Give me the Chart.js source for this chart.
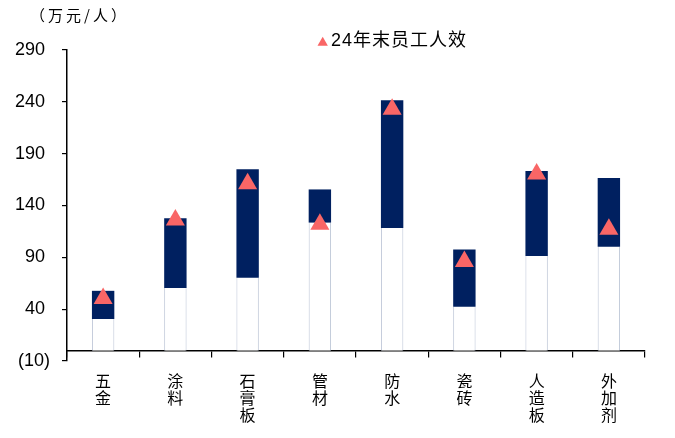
<!DOCTYPE html>
<html><head><meta charset="utf-8">
<script src="https://cdn.jsdelivr.net/npm/chart.js@4.4.0/dist/chart.umd.min.js"></script>
<style>html,body{margin:0;padding:0;background:#fff;}#wrap{width:675px;height:438px;}</style>
</head><body><div id="wrap"><canvas id="c" width="675" height="438"></canvas></div>
<script>
const categories = [['五','金'],['涂','料'],['石','膏','板'],['管','材'],['防','水'],['瓷','砖'],['人','造','板'],['外','加','剂']];
const rangeLow = [30.5, 60.3, 70.3, 123.5, 118.4, 42.3, 91.4, 100.1];
const rangeHigh = [57.7, 127.8, 175, 155.5, 241.5, 97.5, 173.4, 166.6];
const staffEfficiency24 = [50.3, 125.9, 161.1, 121.8, 232.8, 86.0, 170.5, 117];
const yTicks = [-10, 40, 90, 140, 190, 240, 290];
const seriesName = '24年末员工人效';
const unitLabel = '（万元/人）';

const NAVY = '#002060';
const SALMON = '#F96666';
const LATIN = "'Liberation Sans', Arial, 'Noto Sans CJK SC', sans-serif";
const CJK = "'Noto Sans CJK SC', sans-serif";

const extras = {
  id: 'extras',
  afterDraw(chart) {
    const ctx = chart.ctx;
    ctx.save();
    ctx.fillStyle = '#000';
    ctx.font = '15px ' + CJK;
    ctx.textBaseline = 'middle';
    ctx.textAlign = 'left';
    ctx.letterSpacing = '3px';
    ctx.fillText(unitLabel, 30, 15);
    // legend
    ctx.fillStyle = SALMON;
    Chart.helpers.drawPoint(ctx, {pointStyle: 'triangle', radius: 6, rotation: 0, borderWidth: 0}, 322.7, 42.7);
    ctx.fillStyle = '#000';
    ctx.font = '18px ' + LATIN;
    ctx.letterSpacing = '1px';
    ctx.fillText(seriesName, 331, 41);
    ctx.restore();
  }
};

new Chart(document.getElementById('c'), {
  type: 'bar',
  data: {
    labels: categories,
    datasets: [
      {
        type: 'line',
        label: seriesName,
        data: staffEfficiency24,
        showLine: false,
        pointStyle: 'triangle',
        pointRadius: 11,
        pointHoverRadius: 11,
        pointBackgroundColor: SALMON,
        pointBorderWidth: 0,
        order: 0
      },
      {
        label: 'range',
        data: rangeLow.map((v, i) => [v, rangeHigh[i]]),
        backgroundColor: NAVY,
        borderWidth: 0,
        grouped: false,
        categoryPercentage: 1,
        barPercentage: 0.31,
        order: 1
      },
      {
        label: 'base',
        data: rangeLow.map(v => [0, v]),
        backgroundColor: '#FFFFFF',
        borderColor: '#BCC5D6',
        borderWidth: {left: 1, right: 1, top: 0, bottom: 0},
        borderSkipped: false,
        grouped: false,
        categoryPercentage: 1,
        barPercentage: 0.31,
        order: 2
      }
    ]
  },
  options: {
    responsive: false,
    animation: false,
    devicePixelRatio: 1,
    layout: {padding: {left: 0, top: 50, right: 30, bottom: 77}},
    plugins: {legend: {display: false}, tooltip: {enabled: false}},
    scales: {
      x: {
        type: 'category',
        position: {y: 0},
        offset: true,
        grid: {offset: true, drawOnChartArea: false, drawTicks: true, tickLength: 6, color: '#000', lineWidth: 1.2},
        border: {display: true, color: '#000', width: 1.5},
        ticks: {color: '#000', font: {family: CJK, size: 16, lineHeight: 1.06}, padding: 16, maxRotation: 0, autoSkip: false}
      },
      y: {
        min: -10,
        max: 290,
        afterFit(scale) { scale.width = 67; },
        afterBuildTicks(scale) { scale.ticks = yTicks.map(v => ({value: v})); },
        grid: {drawOnChartArea: false, drawTicks: true, tickLength: 5, color: '#000', lineWidth: 1.2},
        border: {display: true, color: '#000', width: 1.5},
        ticks: {
          color: '#000',
          padding: 12,
          font: {family: LATIN, size: 18},
          callback: v => v < 0 ? '(' + Math.abs(v) + ')' : v + ' '
        }
      }
    }
  },
  plugins: [extras]
});
</script></body></html>
